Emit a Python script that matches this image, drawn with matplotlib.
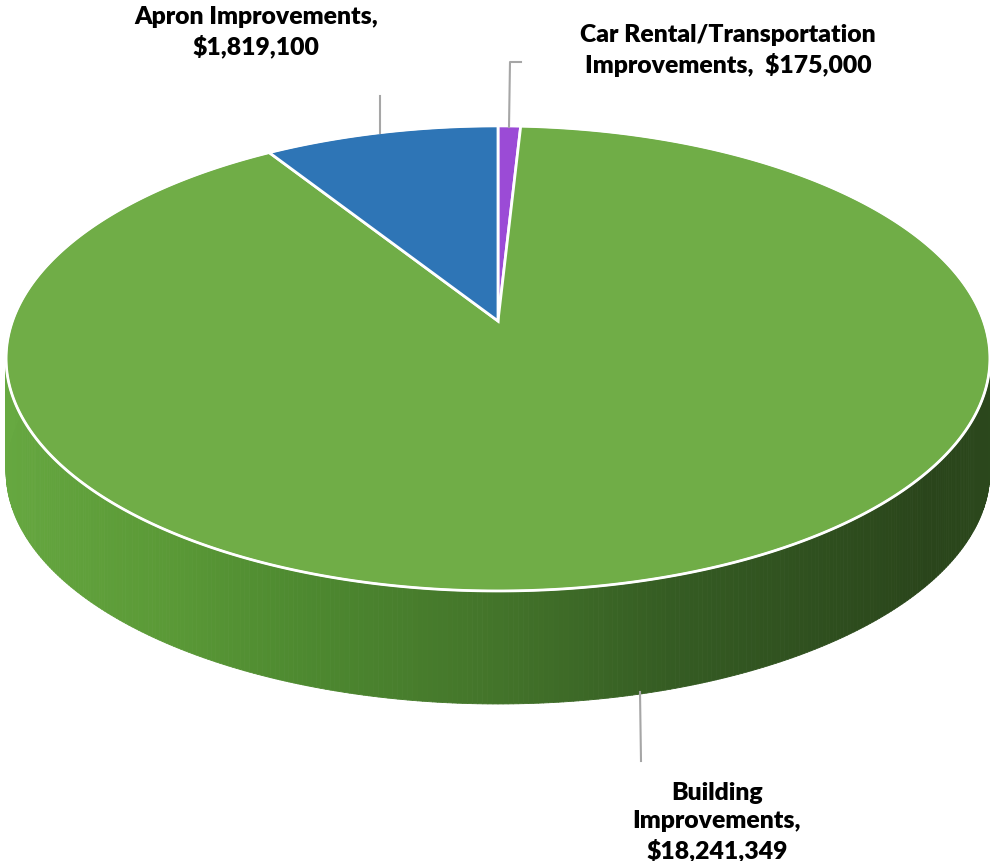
import numpy as np
import matplotlib
matplotlib.use("Agg")
import matplotlib.pyplot as plt
from matplotlib.patches import Polygon
from matplotlib.collections import PolyCollection
from matplotlib.colors import to_rgb

# Capital project budget by category (clockwise from 12 o'clock)
categories = ["Car Rental/Transportation\nImprovements,  ", "Building\nImprovements,\n", "Apron Improvements,\n"]
values = [175000, 18241349, 1819100]
colors = ["#9B4BD6", "#70AD47", "#2E75B6"]

W, H = 990, 862
fig = plt.figure(figsize=(W / 100, H / 100), dpi=100)
ax = fig.add_axes([0, 0, 1, 1])
ax.set_xlim(0, W)
ax.set_ylim(H, 0)
ax.axis("off")

# Perspective view of a tilted disk
CX, CY = 498.0, 322.0
A, B, K = 485.5, 226.5, 0.161
DEPTH = 113.0


def project(theta):
    """theta in radians, clockwise from 12 o'clock; returns screen x, y."""
    u = np.sin(theta)
    v = np.cos(theta)
    s = 1.0 + K * v
    return CX + A * u / s, CY - B * v / s


vals = np.asarray(values, dtype=float)
bounds = np.concatenate([[0.0], np.cumsum(vals) / vals.sum() * 2 * np.pi])

# Side wall, shaded by facing direction
shade_u = [-1.0, -0.6, -0.35, 0.0, 0.3, 0.8, 1.0]
shade_c = ["#67A941", "#5B9A37", "#4E8A30", "#43742A", "#355C23", "#2A451B", "#2B481C"]
shade_rgb = np.array([to_rgb(c) for c in shade_c])

t = np.linspace(0, 2 * np.pi, 721)
polys, fcs = [], []
for t0, t1 in zip(t[:-1], t[1:]):
    tm = 0.5 * (t0 + t1)
    if np.cos(tm) > 0.3:
        continue
    x0, y0 = project(t0)
    x1, y1 = project(t1)
    polys.append([(x0, y0), (x1, y1), (x1, y1 + DEPTH), (x0, y0 + DEPTH)])
    u = np.sin(tm)
    fcs.append([np.interp(u, shade_u, shade_rgb[:, i]) for i in range(3)])
side = PolyCollection(polys, facecolors=fcs, edgecolors=fcs, linewidths=0.6, zorder=1)
ax.add_collection(side)

# Top face slices
for i, col in enumerate(colors):
    tt = np.linspace(bounds[i], bounds[i + 1], max(4, int((bounds[i + 1] - bounds[i]) * 120)))
    xs, ys = project(tt)
    pts = np.column_stack([np.r_[CX, xs], np.r_[CY, ys]])
    ax.add_patch(Polygon(pts, closed=True, facecolor=col, edgecolor="white",
                         linewidth=2.0, joinstyle="miter", zorder=3))

# Rim highlight
xs, ys = project(t)
ax.plot(xs, ys, color="white", lw=1.4, zorder=4)

# Leader lines
lc = "#A6A6A6"
ax.plot([380, 380], [97, 134], color=lc, lw=1.5, zorder=5)
ax.plot([521, 510, 509], [63, 63, 128], color=lc, lw=1.5, zorder=5)
ax.plot([640, 641], [693, 762], color=lc, lw=1.5, zorder=5)

# Data labels
fmt = lambda v: "${:,.0f}".format(v)
font = dict(family=["Lato", "DejaVu Sans"], fontweight="heavy", fontsize=17.8,
            color="black", ha="center", linespacing=1.33)
ax.text(728, 73, categories[0] + fmt(values[0]), va="baseline", **font)
ax.text(717, 858, categories[1] + fmt(values[1]), va="baseline", **font)
ax.text(256, 54, categories[2] + fmt(values[2]), va="baseline", **font)

fig.savefig("out.png", dpi=100, facecolor="white")
